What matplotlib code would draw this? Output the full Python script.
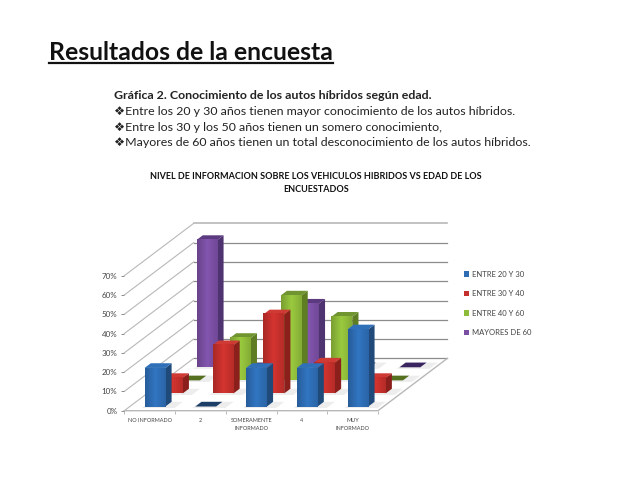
import numpy as np
import matplotlib
matplotlib.use("Agg")
import matplotlib.pyplot as plt
from matplotlib.patches import Polygon, Patch
from matplotlib.colors import LinearSegmentedColormap, to_rgb

plt.rcParams['font.family'] = ['Lato', 'DejaVu Sans']

categories = ["NO INFORMADO", "2", "SOMERAMENTE\nINFORMADO", "4", "MUY\nINFORMADO"]
series_names = ["ENTRE 20 Y 30", "ENTRE 30 Y 40", "ENTRE 40 Y 60", "MAYORES DE 60"]
entre_20_30 = [20, 0, 20, 20, 40]
entre_30_40 = [8, 25, 41, 16, 8]
entre_40_60 = [0, 22, 44, 33, 0]
mayores_60 = [66, 0, 33, 0, 0]
series_values = [entre_20_30, entre_30_40, entre_40_60, mayores_60]
front_colors = ["#2e6db4", "#c5302c", "#8fbb3a", "#7a4fa3"]
side_colors = ["#1f4a7a", "#8a1f1c", "#5f7e24", "#4f3270"]
top_colors = ["#3070b8", "#d03a35", "#6f9430", "#5c3a80"]
flat_colors = ["#1c3d66", "#a02522", "#55701f", "#3a2560"]
y_ticks = [0, 10, 20, 30, 40, 50, 60, 70]

W, H = 638, 479
fig = plt.figure(figsize=(W/100, H/100), dpi=100, facecolor="white")

def ftext(x, y, s, **kw):
    fig.text(x/W, 1-y/H, s, **kw)

# page text
ftext(49, 60, "Resultados de la encuesta", fontsize=17.8, fontweight="bold", color="#111111", va="baseline")
fig.add_artist(plt.Line2D([49/W, 333/W], [1-62.5/H]*2, color="#111111", lw=1.6))
ftext(114, 99, "Gráfica 2. Conocimiento de los autos híbridos según edad.", fontsize=8.9, fontweight="bold", color="#222222", va="baseline")
for yy, s in zip([115, 131, 146], [
    "❖Entre los 20 y 30 años tienen mayor conocimiento de los autos híbridos.",
    "❖Entre los 30 y los 50 años tienen un somero conocimiento,",
    "❖Mayores de 60 años tienen un total desconocimiento de los autos híbridos."]):
    ftext(114, yy, s, fontsize=8.9, color="#222222", va="baseline")
ftext(316, 177, "NIVEL DE INFORMACION SOBRE LOS VEHICULOS HIBRIDOS VS EDAD DE LOS", fontsize=6.5, fontweight="bold", ha="center", va="center", color="#111111")
ftext(316, 190, "ENCUESTADOS", fontsize=6.5, fontweight="bold", ha="center", va="center", color="#111111")

# chart axes = front plane of the 3D box
L, R, T, B = 124.3, 378.0, 275.7, 410.7
ax = fig.add_axes([L/W, 1-B/H, (R-L)/W, (B-T)/H])
ax.set_xlim(0, 5)
ax.set_ylim(0, 70)
ax.patch.set_alpha(0)
for s in ax.spines.values():
    s.set_visible(False)

# one unit of depth, in data units
DX = 69.3/((R-L)/5)
DY = 52.3/((B-T)/70)

def P(x, y, d):
    return (x + d*DX, y + d*DY)

grid = "#8c8c8c"
light = "#b8b8b8"
# walls and floor
for v in y_ticks:
    ax.plot(*zip(P(0, v, 0), P(0, v, 1)), color=light, lw=0.8, clip_on=False, zorder=1)
    top = v == y_ticks[-1]
    ax.plot(*zip(P(0, v, 1), P(5, v, 1)), color=light if top else grid, lw=1.2 if top else 0.9,
            clip_on=False, zorder=1)
ax.plot(*zip(P(0, 0, 0), P(5, 0, 0), P(5, 0, 1)), color=light, lw=1.0, clip_on=False, zorder=1)

BAR_X, BAR_W = 0.29, 0.41
Z0, SLOT, BAR_D = 0.08, 0.25, 0.09
z = 3

def shade(c):
    base = np.array(to_rgb(c))
    return LinearSegmentedColormap.from_list("s", [base*0.85, np.minimum(base*1.08, 1), base*0.92])

grad = np.linspace(0, 1, 64).reshape(1, -1)
for i in range(3, -1, -1):
    d0 = Z0 + SLOT*i
    d1 = d0 + BAR_D
    for c, v in enumerate(series_values[i]):
        x0 = c + BAR_X
        x1 = x0 + BAR_W
        # soft floor shadow
        ax.add_patch(Polygon([P(x0-0.02, 0, d0-0.03), P(x1+0.22, 0, d0-0.03), P(x1+0.22, 0, d1), P(x0-0.02, 0, d1)],
                             closed=True, fc="#e2e2e2", ec="none", alpha=0.6, zorder=z, clip_on=False))
        z += 1
        if v == 0:
            ax.add_patch(Polygon([P(x0, 0, d0), P(x1, 0, d0), P(x1, 0, d1), P(x0, 0, d1)],
                                 closed=True, fc=flat_colors[i], ec="none", zorder=z, clip_on=False))
            z += 1
            continue
        ax.add_patch(Polygon([P(x1, 0, d0), P(x1, 0, d1), P(x1, v, d1), P(x1, v, d0)],
                             closed=True, fc=side_colors[i], ec="none", zorder=z, clip_on=False))
        ax.add_patch(Polygon([P(x0, v, d0), P(x1, v, d0), P(x1, v, d1), P(x0, v, d1)],
                             closed=True, fc=top_colors[i], ec="none", zorder=z, clip_on=False))
        fx, fy = P(x0, 0, d0)
        gx, gy = P(x1, v, d0)
        ax.imshow(grad, extent=(fx, gx, fy, gy), cmap=shade(front_colors[i]), aspect="auto", zorder=z+1, clip_on=False)
        z += 2

ax.set_xlim(0, 5)
ax.set_ylim(0, 70)

# axes ticks and labels
ax.set_yticks(y_ticks)
ax.set_yticklabels([f"{v}%" for v in y_ticks], fontsize=5.8, color="#444444")
ax.tick_params(axis="y", length=2, width=0.7, color=grid, pad=3)
ax.set_xticks(np.arange(5)+0.5)
ax.set_xticklabels(categories, fontsize=4.0, color="#444444", linespacing=1.75)
ax.set_xticks(np.arange(6), minor=True)
ax.tick_params(axis="x", which="major", length=0, pad=5)
ax.tick_params(axis="x", which="minor", length=2, width=0.7, color=light)

handles = [Patch(fc=c, ec="none", label=n) for c, n in zip(front_colors, series_names)]
leg = fig.legend(handles=handles, loc="upper left", bbox_to_anchor=(457.5/W, 1-264.5/H), frameon=False,
                 fontsize=5.5, labelspacing=1.64, handlelength=0.75, handleheight=0.75,
                 handletextpad=0.35, borderpad=0.3, labelcolor="#444444")

fig.savefig("out.png", dpi=100, facecolor="white")
